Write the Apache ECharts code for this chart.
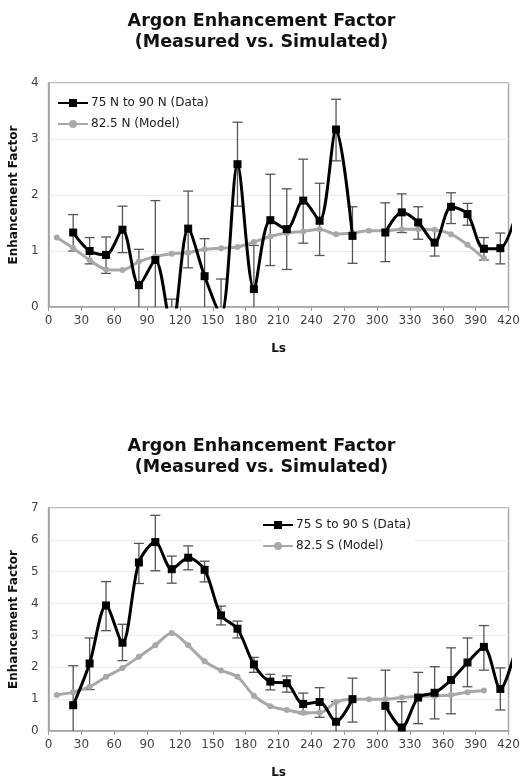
<!DOCTYPE html>
<html>
<head>
<meta charset="utf-8">
<script src="https://cdn.jsdelivr.net/npm/echarts@6/dist/echarts.min.js"></script>
<style>
  html, body { margin: 0; padding: 0; background: #fff; }
  #chart { width: 523px; height: 780px; }
</style>
</head>
<body>
<div id="chart"></div>
<script>
// Ls bin centres
var lsData = [22.5, 37.5, 52.5, 67.5, 82.5, 97.5, 112.5, 127.5, 142.5, 157.5, 172.5, 187.5, 202.5, 217.5,
  232.5, 247.5, 262.5, 277.5, 292.5, 307.5, 322.5, 337.5, 352.5, 367.5, 382.5, 397.5, 412.5, 427.5];
var lsModel = [7.5, 22.5, 37.5, 52.5, 67.5, 82.5, 97.5, 112.5, 127.5, 142.5, 157.5, 172.5, 187.5, 202.5,
  217.5, 232.5, 247.5, 262.5, 277.5, 292.5, 307.5, 322.5, 337.5, 352.5, 367.5, 382.5, 397.5];

// north (top chart)
var northData = [1.33, 1.0, 0.93, 1.38, 0.39, 0.84, -0.4, 1.4, 0.55, -0.15, 2.55, 0.32, 1.55, 1.39,
  1.9, 1.54, 3.17, 1.27, null, 1.33, 1.69, 1.51, 1.15, 1.79, 1.66, 1.04, 1.05, 1.7];
var northLow = [1.0, 0.77, 0.6, 0.97, -0.25, -0.22, -0.95, 0.7, -0.1, -0.75, 1.8, -0.45, 0.74, 0.67,
  1.14, 0.92, 2.61, 0.78, null, 0.81, 1.33, 1.21, 0.91, 1.49, 1.46, 0.84, 0.77, null];
var northHigh = [1.65, 1.24, 1.25, 1.8, 1.03, 1.9, 0.14, 2.07, 1.22, 0.5, 3.3, 1.1, 2.37, 2.11,
  2.64, 2.21, 3.71, 1.79, null, 1.86, 2.02, 1.79, 1.38, 2.04, 1.85, 1.24, 1.32, null];
var northModel = [1.24, 1.05, 0.84, 0.67, 0.66, 0.81, 0.9, 0.95, 0.97, 1.03, 1.05, 1.07, 1.16, 1.26,
  1.32, 1.35, 1.39, 1.30, 1.32, 1.36, 1.36, 1.39, 1.39, 1.38, 1.30, 1.11, 0.87];

// south (bottom chart)
var southData = [0.81, 2.12, 3.94, 2.77, 5.29, 5.93, 5.08, 5.44, 5.06, 3.63, 3.21, 2.09, 1.55, 1.5,
  0.85, 0.91, 0.29, 1.0, null, 0.79, 0.11, 1.05, 1.2, 1.6, 2.15, 2.64, 1.32, 2.7];
var southLow = [-0.4, 1.3, 3.15, 2.21, 4.63, 5.03, 4.64, 5.06, 4.68, 3.33, 2.92, 1.84, 1.29, 1.22,
  0.54, 0.43, -0.3, 0.28, null, -0.3, -0.7, 0.23, 0.38, 0.54, 1.39, 1.91, 0.66, null];
var southHigh = [2.05, 2.92, 4.69, 3.35, 5.89, 6.77, 5.49, 5.81, 5.33, 3.92, 3.45, 2.31, 1.78, 1.73,
  1.19, 1.36, 0.92, 1.66, null, 1.91, 0.92, 1.84, 2.02, 2.61, 2.92, 3.31, 1.98, null];
var southModel = [1.13, 1.22, 1.39, 1.70, 1.98, 2.33, 2.69, 3.08, 2.69, 2.19, 1.90, 1.70, 1.11, 0.78,
  0.66, 0.57, 0.57, 0.91, 1.0, 1.0, 1.0, 1.05, 1.08, 1.1, 1.13, 1.22, 1.27];

var titleText = "Argon Enhancement Factor\n(Measured vs. Simulated)";
var font = "DejaVu Sans";

function pairs(xs, ys) {
  return xs.map(function (x, i) { return [x, ys[i]]; });
}
function errPairs(xs, lo, hi) {
  var out = [];
  xs.forEach(function (x, i) {
    if (lo[i] != null && hi[i] != null) out.push([x, lo[i], hi[i]]);
  });
  return out;
}

// error bars, clipped to the plot
function errRender(params, api) {
  var x = api.value(0);
  var p1 = api.coord([x, api.value(2)]);
  var p2 = api.coord([x, api.value(1)]);
  var cs = params.coordSys;
  var top = cs.y, bot = cs.y + cs.height;
  var y1 = Math.max(top, Math.min(bot, p1[1]));
  var y2 = Math.max(top, Math.min(bot, p2[1]));
  var st = { stroke: "#555", lineWidth: 1.3 };
  var kids = [{ type: "line", shape: { x1: p1[0], y1: y1, x2: p1[0], y2: y2 }, style: st }];
  if (p1[1] >= top && p1[1] <= bot) {
    kids.push({ type: "line", shape: { x1: p1[0] - 5, y1: p1[1], x2: p1[0] + 5, y2: p1[1] }, style: st });
  }
  if (p2[1] >= top && p2[1] <= bot) {
    kids.push({ type: "line", shape: { x1: p2[0] - 5, y1: p2[1], x2: p2[0] + 5, y2: p2[1] }, style: st });
  }
  return { type: "group", children: kids };
}

function xAxisOpt(idx) {
  return {
    type: "value", gridIndex: idx, min: 0, max: 420, interval: 30,
    name: "Ls", nameLocation: "middle", nameGap: 36,
    nameTextStyle: { fontFamily: font, fontWeight: "bold", fontSize: 12, color: "#111" },
    axisLine: { show: true, lineStyle: { color: "#a0a0a0", width: 1.5 } },
    axisTick: { show: true, length: 4, lineStyle: { color: "#a0a0a0" } },
    axisLabel: { fontFamily: font, fontSize: 12, color: "#444", margin: 8 },
    splitLine: { show: false }
  };
}
function yAxisOpt(idx, max) {
  return {
    type: "value", gridIndex: idx, min: 0, max: max, interval: 1,
    name: "Enhancement Factor", nameLocation: "middle", nameGap: 25,
    nameTextStyle: { fontFamily: font, fontWeight: "bold", fontSize: 12, color: "#111" },
    axisLine: { show: true, lineStyle: { color: "#a0a0a0", width: 1.5 } },
    axisTick: { show: false },
    axisLabel: { fontFamily: font, fontSize: 12, color: "#444", margin: 10 },
    splitLine: { show: true, lineStyle: { color: "#ececec", width: 1 } }
  };
}
function legendOpt(left, top, names) {
  return {
    orient: "vertical", left: left, top: top, itemGap: 9, itemWidth: 30, itemHeight: 10,
    backgroundColor: "#fff", padding: [2, 4, 2, 0],
    textStyle: { fontFamily: font, fontSize: 12, color: "#222", padding: [0, 0, 0, -2] },
    data: names
  };
}

var chart = echarts.init(document.getElementById("chart"));
chart.setOption({
  animation: false,
  backgroundColor: "#fff",
  title: [
    { text: titleText, left: "center", top: 6,
      textStyle: { fontFamily: font, fontWeight: "bold", fontSize: 17.5, lineHeight: 21, color: "#111" } },
    { text: titleText, left: "center", top: 431,
      textStyle: { fontFamily: font, fontWeight: "bold", fontSize: 17.5, lineHeight: 21, color: "#111" } }
  ],
  legend: [
    legendOpt(57, 95, ["75 N to 90 N (Data)", "82.5 N (Model)"]),
    legendOpt(262, 517, ["75 S to 90 S (Data)", "82.5 S (Model)"])
  ],
  grid: [
    { left: 47, top: 83, width: 463, height: 224, show: true, borderColor: "#a8a8a8", borderWidth: 1.5 },
    { left: 47, top: 508, width: 463, height: 225, show: true, borderColor: "#a8a8a8", borderWidth: 1.5 }
  ],
  xAxis: [xAxisOpt(0), xAxisOpt(1)],
  yAxis: [yAxisOpt(0, 4), yAxisOpt(1, 7)],
  series: [
    { type: "custom", name: "errN", xAxisIndex: 0, yAxisIndex: 0, z: 1,
      renderItem: errRender, data: errPairs(lsData, northLow, northHigh) },
    { type: "line", name: "82.5 N (Model)", xAxisIndex: 0, yAxisIndex: 0, z: 2,
      smooth: 0.3, symbol: "circle", symbolSize: 6,
      lineStyle: { color: "#a8a8a8", width: 3 }, itemStyle: { color: "#a8a8a8" },
      data: pairs(lsModel, northModel) },
    { type: "line", name: "75 N to 90 N (Data)", xAxisIndex: 0, yAxisIndex: 0, z: 3,
      smooth: 0.3, symbol: "rect", symbolSize: 8, connectNulls: false,
      lineStyle: { color: "#000", width: 3 }, itemStyle: { color: "#000" },
      data: pairs(lsData, northData) },

    { type: "custom", name: "errS", xAxisIndex: 1, yAxisIndex: 1, z: 1,
      renderItem: errRender, data: errPairs(lsData, southLow, southHigh) },
    { type: "line", name: "82.5 S (Model)", xAxisIndex: 1, yAxisIndex: 1, z: 2,
      smooth: 0.3, symbol: "circle", symbolSize: 6,
      lineStyle: { color: "#a8a8a8", width: 3 }, itemStyle: { color: "#a8a8a8" },
      data: pairs(lsModel, southModel) },
    { type: "line", name: "75 S to 90 S (Data)", xAxisIndex: 1, yAxisIndex: 1, z: 3,
      smooth: 0.3, symbol: "rect", symbolSize: 8, connectNulls: false,
      lineStyle: { color: "#000", width: 3 }, itemStyle: { color: "#000" },
      data: pairs(lsData, southData) }
  ]
});
</script>
</body>
</html>
